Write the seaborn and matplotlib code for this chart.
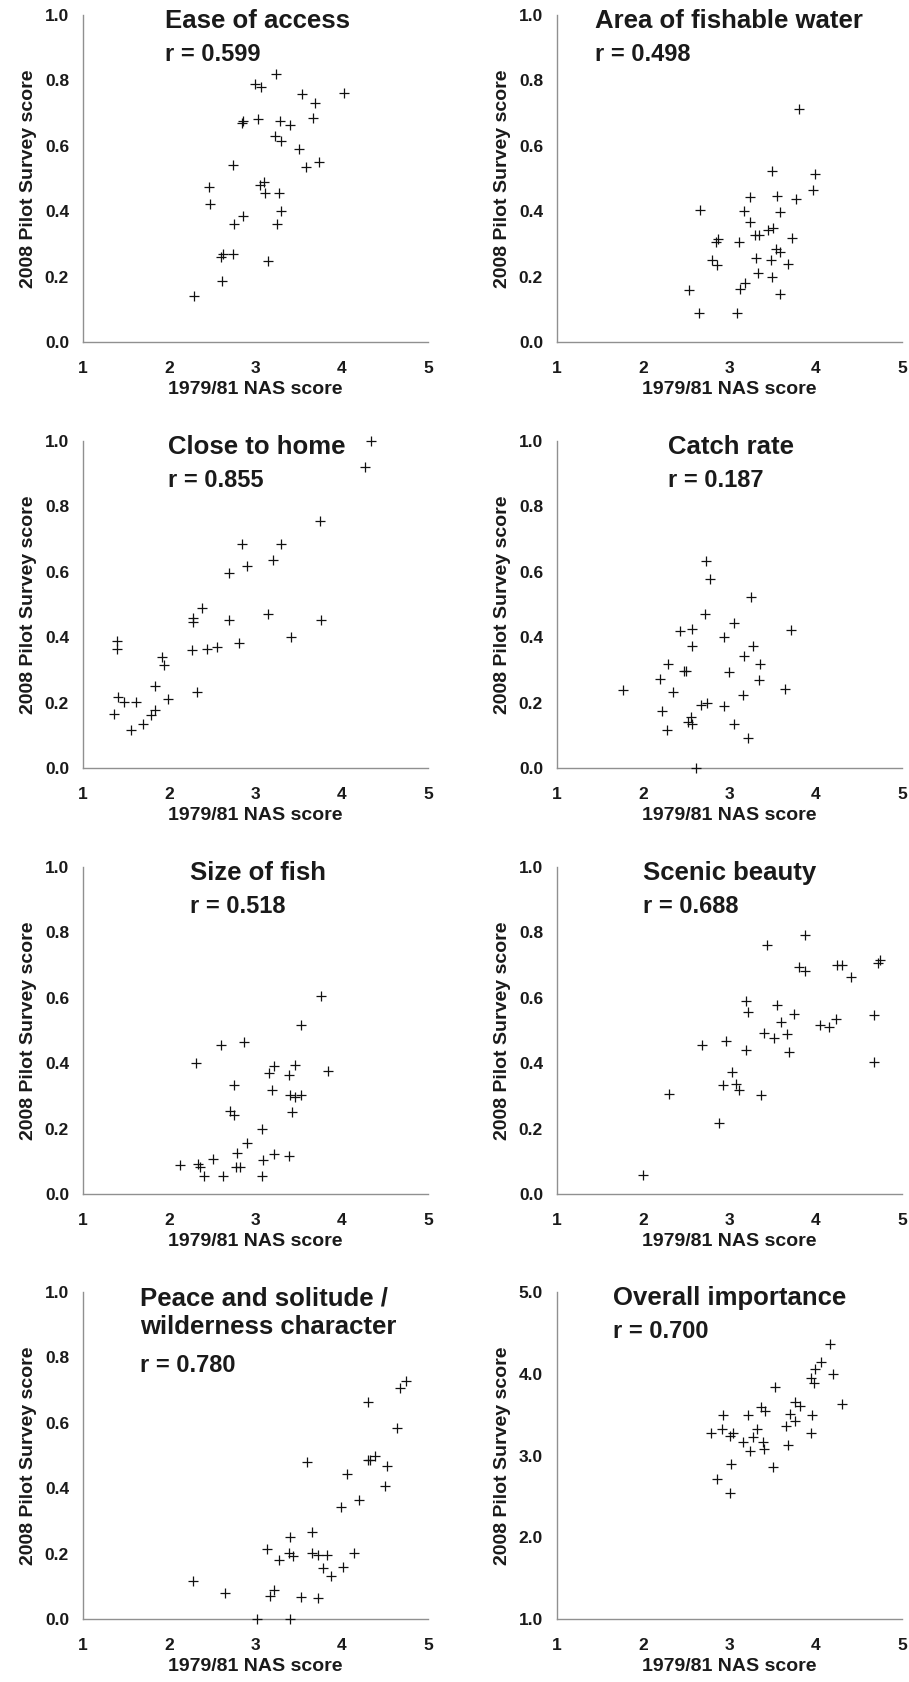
import matplotlib
matplotlib.use("Agg")
import matplotlib.pyplot as plt
import seaborn as sns
import pandas as pd

sns.set_style("white")
plt.rcParams['font.family'] = ['Liberation Sans', 'DejaVu Sans']

# ---------------- data ----------------
ease_x = [2.29, 2.61, 2.60, 2.62, 2.74, 3.15, 2.75, 2.85, 3.25, 3.30, 2.46, 2.47, 2.74, 3.05, 3.10, 3.11, 3.27,
          2.84, 2.85, 3.03, 3.28, 3.40, 3.23, 3.30, 3.51, 3.59, 3.74, 3.67, 3.69, 3.54, 4.03, 3.00, 3.06, 3.24]
ease_y = [0.141, 0.186, 0.260, 0.268, 0.268, 0.249, 0.362, 0.385, 0.362, 0.401, 0.474, 0.421, 0.541, 0.479, 0.489, 0.457, 0.456,
          0.671, 0.676, 0.682, 0.677, 0.663, 0.630, 0.615, 0.590, 0.536, 0.549, 0.686, 0.731, 0.757, 0.762, 0.789, 0.781, 0.821]

area_x = [3.80, 3.49, 3.99, 3.97, 3.24, 3.55, 3.77, 2.66, 3.17, 3.58, 3.24, 3.29, 3.34, 3.45, 3.50, 3.73, 2.84,
          2.87, 3.11, 3.31, 3.48, 3.54, 3.59, 3.68, 2.80, 2.85, 3.33, 3.49, 3.18, 3.12, 3.59, 2.53, 2.65, 3.09]
area_y = [0.714, 0.523, 0.513, 0.466, 0.442, 0.446, 0.438, 0.405, 0.401, 0.397, 0.367, 0.327, 0.327, 0.344, 0.349, 0.318, 0.306,
          0.314, 0.306, 0.257, 0.252, 0.283, 0.276, 0.240, 0.250, 0.235, 0.211, 0.199, 0.179, 0.163, 0.146, 0.158, 0.090, 0.090]

home_x = [4.34, 4.27, 3.75, 2.84, 3.30, 3.20, 2.90, 2.69, 2.38, 2.28, 2.27, 2.69, 3.14, 3.76, 3.41, 2.81, 2.26,
          2.44, 2.55, 1.39, 1.39, 1.92, 1.94, 1.83, 1.99, 2.32, 1.41, 1.48, 1.61, 1.36, 1.56, 1.70, 1.79, 1.83]
home_y = [1.000, 0.921, 0.756, 0.686, 0.686, 0.636, 0.617, 0.595, 0.488, 0.459, 0.445, 0.454, 0.472, 0.454, 0.401, 0.381, 0.360,
          0.363, 0.370, 0.389, 0.363, 0.340, 0.314, 0.250, 0.212, 0.233, 0.218, 0.202, 0.202, 0.166, 0.117, 0.134, 0.161, 0.178]

catch_x = [2.73, 2.77, 3.25, 2.72, 3.05, 3.71, 2.43, 2.56, 2.94, 2.56, 3.27, 3.17, 3.35, 2.29, 2.47, 2.49, 2.99,
           3.34, 2.19, 1.76, 2.35, 3.64, 3.16, 2.67, 2.74, 2.94, 2.22, 2.55, 2.52, 2.57, 3.05, 2.28, 3.22, 2.61]
catch_y = [0.633, 0.578, 0.523, 0.472, 0.444, 0.423, 0.418, 0.424, 0.401, 0.372, 0.373, 0.344, 0.319, 0.319, 0.297, 0.297, 0.294,
           0.270, 0.273, 0.238, 0.233, 0.241, 0.224, 0.194, 0.199, 0.189, 0.174, 0.156, 0.141, 0.134, 0.134, 0.117, 0.092, 0.000]

size_x = [3.76, 3.53, 2.87, 2.60, 2.31, 3.84, 3.46, 3.21, 3.16, 3.39, 2.75, 3.19, 3.40, 3.46, 3.53, 3.42, 2.71,
          2.75, 3.07, 2.90, 2.79, 3.21, 3.39, 3.09, 2.51, 2.13, 2.33, 2.36, 2.40, 2.62, 2.77, 2.82, 3.07]
size_y = [0.607, 0.517, 0.464, 0.456, 0.401, 0.377, 0.393, 0.391, 0.369, 0.364, 0.332, 0.319, 0.303, 0.296, 0.303, 0.250, 0.255,
          0.242, 0.199, 0.155, 0.126, 0.122, 0.117, 0.105, 0.107, 0.089, 0.092, 0.082, 0.056, 0.056, 0.084, 0.084, 0.056]

scenic_x = [2.00, 2.30, 2.68, 2.88, 2.92, 2.96, 3.03, 3.07, 3.11, 3.19, 3.22, 3.19, 3.37, 3.44, 3.40, 3.52, 3.55,
            3.60, 3.67, 3.69, 3.75, 3.87, 3.80, 3.88, 4.05, 4.15, 4.24, 4.25, 4.31, 4.41, 4.67, 4.67, 4.72, 4.75]
scenic_y = [0.059, 0.306, 0.456, 0.216, 0.332, 0.469, 0.372, 0.335, 0.319, 0.589, 0.558, 0.439, 0.303, 0.760, 0.492, 0.478, 0.579,
            0.526, 0.488, 0.434, 0.549, 0.791, 0.694, 0.681, 0.517, 0.510, 0.534, 0.699, 0.699, 0.665, 0.546, 0.405, 0.706, 0.716]

peace_x = [2.27, 2.65, 3.02, 3.40, 3.13, 3.17, 3.22, 3.27, 3.40, 3.39, 3.44, 3.53, 3.60, 3.66, 3.66, 3.73, 3.83,
           3.78, 3.88, 3.73, 3.99, 4.02, 4.06, 4.14, 4.20, 4.30, 4.31, 4.33, 4.39, 4.53, 4.50, 4.64, 4.68, 4.75]
peace_y = [0.117, 0.079, 0.000, 0.000, 0.214, 0.071, 0.089, 0.179, 0.252, 0.201, 0.193, 0.066, 0.479, 0.267, 0.201, 0.196, 0.196,
           0.155, 0.130, 0.063, 0.344, 0.160, 0.443, 0.201, 0.364, 0.663, 0.485, 0.487, 0.499, 0.468, 0.407, 0.584, 0.706, 0.727]

overall_x = [2.79, 2.91, 2.92, 2.86, 3.00, 3.02, 3.01, 3.04, 3.22, 3.16, 3.24, 3.27, 3.32, 3.36, 3.41, 3.39, 3.40,
             3.51, 3.53, 3.65, 3.68, 3.70, 3.76, 3.76, 3.82, 3.94, 3.96, 3.95, 3.98, 3.99, 4.06, 4.20, 4.17, 4.31]
overall_y = [3.27, 3.32, 3.50, 2.71, 2.54, 2.89, 3.24, 3.27, 3.50, 3.16, 3.06, 3.23, 3.32, 3.59, 3.55, 3.16, 3.08,
             2.86, 3.84, 3.36, 3.13, 3.51, 3.42, 3.66, 3.61, 3.27, 3.49, 3.95, 3.89, 4.06, 4.14, 4.00, 4.36, 3.63]

titles = ["Ease of access", "Area of fishable water", "Close to home", "Catch rate",
          "Size of fish", "Scenic beauty", "Peace and solitude /\nwilderness character", "Overall importance"]
r_labels = ["r = 0.599", "r = 0.498", "r = 0.855", "r = 0.187",
            "r = 0.518", "r = 0.688", "r = 0.780", "r = 0.700"]
x_label = "1979/81 NAS score"
y_label = "2008 Pilot Survey score"
x_ticks = [1, 2, 3, 4, 5]
y_ticks_frac = [0.0, 0.2, 0.4, 0.6, 0.8, 1.0]
y_ticks_overall = [1.0, 2.0, 3.0, 4.0, 5.0]

series = [(ease_x, ease_y), (area_x, area_y), (home_x, home_y), (catch_x, catch_y),
          (size_x, size_y), (scenic_x, scenic_y), (peace_x, peace_y), (overall_x, overall_y)]

# ---------------- layout ----------------
W, H = 909, 1682
fig = plt.figure(figsize=(W / 100, H / 100), dpi=100)
col_left = [83, 557]
row_top = [15, 441, 867, 1292]
ax_w, ax_h = 345, 327

title_x = [0.238, 0.110, 0.246, 0.322, 0.310, 0.249, 0.165, 0.162]
text_color = "#1a1a1a"
spine_color = "#909090"

for i, (xs, ys) in enumerate(series):
    r, c = divmod(i, 2)
    left = col_left[c] / W
    bottom = 1 - (row_top[r] + ax_h) / H
    ax = fig.add_axes([left, bottom, ax_w / W, ax_h / H])
    df = pd.DataFrame({"x": xs, "y": ys})
    sns.scatterplot(data=df, x="x", y="y", marker="+", color="#111111", s=62,
                    linewidth=0.9, ax=ax, clip_on=False, zorder=3)
    ax.set_xlim(1, 5)
    if i == 7:
        ax.set_ylim(1, 5)
        ax.set_yticks(y_ticks_overall)
    else:
        ax.set_ylim(0, 1)
        ax.set_yticks(y_ticks_frac)
    ax.set_xticks(x_ticks)
    ax.set_xticklabels([str(t) for t in x_ticks])
    ax.set_yticklabels([f"{t:.1f}" for t in ax.get_yticks()])
    for sp in ["top", "right"]:
        ax.spines[sp].set_visible(False)
    for sp in ["left", "bottom"]:
        ax.spines[sp].set_color(spine_color)
        ax.spines[sp].set_linewidth(1.0)
    ax.tick_params(axis="x", direction="out", length=3, width=1.0, color=spine_color,
                   labelsize=12.5, labelcolor=text_color, pad=10.5)
    ax.tick_params(axis="y", direction="out", length=3.5, width=1.0, color=spine_color,
                   labelsize=12.5, labelcolor=text_color, pad=6.5)
    for lbl in ax.get_xticklabels() + ax.get_yticklabels():
        lbl.set_fontweight("bold")
    ax.set_xlabel(x_label, fontsize=14, fontweight="bold", color=text_color, labelpad=4)
    ax.set_ylabel(y_label, fontsize=14, fontweight="bold", color=text_color, labelpad=5.5)

    if i == 6:
        ax.text(title_x[i], 0.960, "Peace and solitude /", transform=ax.transAxes,
                fontsize=18.5, fontweight="bold", color=text_color, va="baseline", ha="left")
        ax.text(title_x[i], 0.872, "wilderness character", transform=ax.transAxes,
                fontsize=18.5, fontweight="bold", color=text_color, va="baseline", ha="left")
        ax.text(title_x[i], 0.756, r_labels[i], transform=ax.transAxes,
                fontsize=17, fontweight="bold", color=text_color, va="baseline", ha="left")
    else:
        ax.text(title_x[i], 0.960, titles[i], transform=ax.transAxes,
                fontsize=18.5, fontweight="bold", color=text_color, va="baseline", ha="left")
        ax.text(title_x[i], 0.858, r_labels[i], transform=ax.transAxes,
                fontsize=17, fontweight="bold", color=text_color, va="baseline", ha="left")

fig.savefig("out.png", dpi=100, facecolor="white")
